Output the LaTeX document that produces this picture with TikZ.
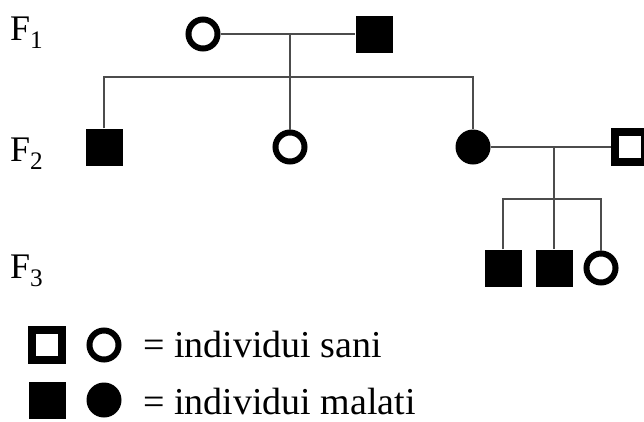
\documentclass[tikz,border=0pt]{standalone}
\usepackage{fontspec}
\setmainfont{Liberation Serif}

\begin{document}
\begin{tikzpicture}[x=1pt,y=-1pt,
    healthyF/.style={circle,draw,line width=6pt,minimum size=29pt,inner sep=0pt},
    sickF/.style={circle,fill,minimum size=35pt,inner sep=0pt},
    healthyM/.style={rectangle,draw,line width=8pt,minimum size=30pt,inner sep=0pt},
    sickM/.style={rectangle,fill,minimum size=37pt,inner sep=0pt},
    link/.style={black!70,line width=1.6pt},
    gen/.style={anchor=base west,inner sep=0pt,font=\fontsize{36}{38}\selectfont},
    legend/.style={anchor=base west,inner sep=0pt,font=\fontsize{38}{40}\selectfont}]
    \useasboundingbox (0,0) rectangle (644,421);
    % generation labels
    \node [gen] (g1) at (10,40) {F\textsubscript{1}};
    \node [gen] (g2) at (10,161) {F\textsubscript{2}};
    \node [gen] (g3) at (10,278) {F\textsubscript{3}};
    % F1
    \node [healthyF] (mother) at (203,34) {};
    \node [sickM] (father) at (374,34) {};
    \coordinate (mid1) at (290,34);
    \coordinate (sib1) at (290,77);
    % F2
    \node [sickM] (son) at (104,147) {};
    \node [healthyF] (daughter) at (290,147) {};
    \node [sickF] (wife) at (473,147) {};
    \node [healthyM] (husband) at (630,147) {};
    \coordinate (mid2) at (554,146);
    \coordinate (sib2) at (554,199);
    % F3
    \node [sickM] (grandsonA) at (503,268) {};
    \node [sickM] (grandsonB) at (554,268) {};
    \node [healthyF] (granddaughter) at (601,268) {};
    % connectors
    \draw [link] (mother) -- (father);
    \draw [link] (mid1) -- (daughter);
    \draw [link] (son) |- (sib1) -| (wife);
    \draw [link] (wife) -- (husband);
    \draw [link] (mid2) -- (grandsonB);
    \draw [link] (grandsonA) |- (sib2) -| (granddaughter);
    % legend
    \node [healthyM] (keyM) at (47,345) {};
    \node [healthyF] (keyF) at (104,345) {};
    \node [legend] (keyA) at (143,357) {= individui sani};
    \node [sickM] (keyMs) at (47,400) {};
    \node [sickF] (keyFs) at (104,400) {};
    \node [legend] (keyB) at (143,414) {= individui malati};
\end{tikzpicture}
\end{document}
